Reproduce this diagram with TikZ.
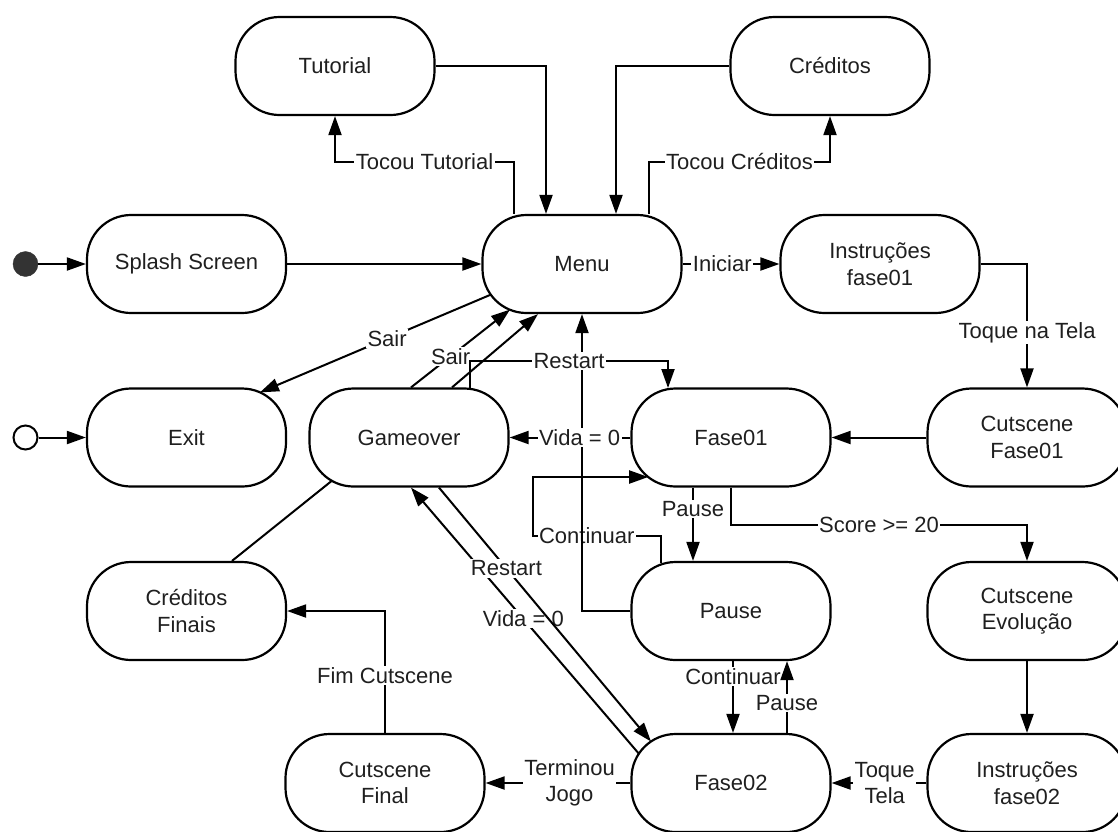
\documentclass[tikz,border=0pt]{standalone}
\usepackage{fontspec}
\setmainfont{Liberation Sans}
\usetikzlibrary{arrows.meta,calc}
\begin{document}
\begin{tikzpicture}[x=1pt,y=-1pt,
  state/.style={draw=black,line width=2.2pt,rounded corners=44pt,
    minimum width=199pt,minimum height=98pt,align=center,text=black!88,
    font=\fontsize{22pt}{26.5pt}\selectfont},
  trans/.style={line width=2pt,-{Triangle[length=19pt,width=13pt]}},
  plain/.style={line width=2pt},
  lbl/.style={fill=white,inner sep=1.5pt,align=center,text=black!88,
    font=\fontsize{22pt}{26.5pt}\selectfont},
]
\useasboundingbox (0,0) rectangle (1118,831);

% states
\node[state] (tutorial) at (335,66) {Tutorial};
\node[state] (creditos) at (830,66) {Créditos};
\node[state] (splash) at (186.5,264) {Splash Screen};
\node[state] (menu) at (582,264) {Menu};
\node[state] (instr1) at (880,264) {Instruções\\fase01};
\node[state] (exit) at (186.5,437.5) {Exit};
\node[state] (gameover) at (409,437.5) {Gameover};
\node[state] (fase1) at (731,437.5) {Fase01};
\node[state] (cut1) at (1027,437.5) {Cutscene\\Fase01};
\node[state] (credfin) at (186.5,611) {Créditos\\Finais};
\node[state] (pause) at (731,611) {Pause};
\node[state] (cutevo) at (1027,611) {Cutscene\\Evolução};
\node[state] (cutfin) at (385,783) {Cutscene\\Final};
\node[state] (fase2) at (731,783) {Fase02};
\node[state] (instr2) at (1027,783) {Instruções\\fase02};

% initial and final markers
\node[circle,fill=black!80,draw=black!80,minimum size=25pt,inner sep=0pt] (init) at (25.5,264) {};
\node[circle,draw=black,line width=2pt,minimum size=24pt,inner sep=0pt] (final) at (25.5,437.5) {};
\draw[trans] (init) -- (splash.west);
\draw[trans] (final) -- (exit.west);

% menu and its side screens
\draw[trans] (splash.east) -- (menu.west);
\draw[trans] ($(menu.north)+(-68,0)$) -- ++(0,-52) -| node[lbl,pos=0.25]{Tocou Tutorial} (tutorial.south);
\draw[trans] (tutorial.east) -| ($(menu.north)+(-36,0)$);
\draw[trans] (creditos.west) -| ($(menu.north)+(34,0)$);
\draw[trans] ($(menu.north)+(67,0)$) -- ++(0,-52) -| node[lbl,pos=0.25]{Tocou Créditos} (creditos.south);
\draw[trans] (menu.east) -- node[lbl,pos=0.41]{Iniciar} (instr1.west);
\draw[trans] (instr1.east) -| node[lbl,pos=0.777]{Toque na Tela} (cut1.north);
\draw[trans] (cut1.west) -- (fase1.east);
\draw[trans] ($(menu.center)+(-90.9,30.5)$) -- node[lbl,pos=0.45]{Sair} ($(exit.center)+(73.4,-45.1)$);

% gameover back to menu
\draw[trans] ($(gameover.north)+(2,0)$) -- node[lbl,pos=0.4]{Sair} ($(menu.center)+(-72,45.6)$);
\draw[trans] ($(gameover.north)+(43,0)$) -- ($(menu.south)+(-44,0)$);

% pause loop with fase01
\draw[trans] ($(pause.north)+(-70,2.5)$) -- ++(0,-27.5) -| node[lbl,pos=0.29]{Continuar} ($(fase1.center)+(-198,39.5)$) -- ($(fase1.center)+(-82.8,39.5)$);
\draw[trans] (pause.west) -| (menu.south);
\draw[trans] ($(gameover.north)+(61,0.3)$) -- ++(0,-26.8) -| node[lbl,pos=0.25]{Restart} ($(fase1.north)+(-63,0.6)$);
\draw[trans] (fase1.west) -- node[lbl,pos=0.42]{Vida = 0} (gameover.east);
\draw[trans] ($(fase1.south)+(-38,0)$) -- node[lbl,pos=0.29]{Pause} ($(pause.north)+(-38,0)$);
\draw[trans] (fase1.south) -- ++(0,37.5) -| node[lbl,pos=0.25]{Score >= 20} (cutevo.north);

% second phase
\draw[trans] (cutevo.south) -- (instr2.north);
\draw[trans] (instr2.west) -- node[lbl,pos=0.44]{Toque\\Tela} (fase2.east);
\draw[trans] (fase2.west) -- node[lbl,pos=0.42]{Terminou\\Jogo} (cutfin.east);
\draw[trans] (cutfin.north) |- node[lbl,pos=0.236]{Fim Cutscene} (credfin.east);
\draw[plain] ($(gameover.center)+(-77.2,43.3)$) -- ($(credfin.north)+(45.5,0)$);
\draw[trans] ($(fase2.center)+(-92.2,-29.4)$) -- node[lbl,pos=0.507]{Vida = 0} ($(gameover.south)+(2,0)$);
\draw[trans] ($(gameover.south)+(30,0)$) -- node[lbl,pos=0.318]{Restart} ($(fase2.center)+(-80,-41.5)$);
\draw[trans] ($(pause.south)+(2,0)$) -- node[lbl,pos=0.22]{Continuar} ($(fase2.north)+(2,0)$);
\draw[trans] ($(fase2.north)+(56,0)$) -- node[lbl,pos=0.42]{Pause} ($(pause.south)+(56,0)$);
\end{tikzpicture}
\end{document}
